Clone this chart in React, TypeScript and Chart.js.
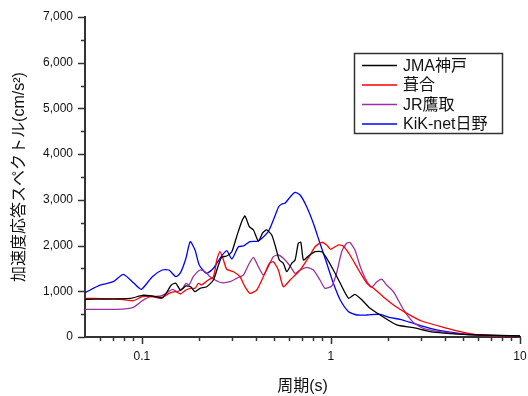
import React, { useEffect, useRef } from "react";
import { Chart, registerables } from "chart.js";

Chart.register(...registerables);

const seriesLabels = ["JMA神戸", "葺合", "JR鷹取", "KiK-net日野"];
const seriesColors = ["#000000", "#ff0000", "#9932a0", "#0000ff"];

const jmaPeriods = [0.05, 0.0872, 0.1005, 0.1135, 0.128, 0.136, 0.143, 0.151, 0.16, 0.171, 0.181, 0.191, 0.203, 0.22, 0.239, 0.254, 0.264, 0.281, 0.299, 0.317, 0.337, 0.351, 0.37, 0.389, 0.413, 0.436, 0.457, 0.486, 0.506, 0.533, 0.56, 0.584, 0.62, 0.646, 0.672, 0.693, 0.715, 0.76, 0.824, 0.894, 0.95, 1.03, 1.12, 1.24, 1.34, 1.46, 1.61, 1.82, 2.23, 2.73, 3.35, 4.1, 6.15, 10];
const jmaValues = [824, 846, 912, 897, 860, 991, 1138, 1175, 1028, 1116, 1100, 991, 1065, 1100, 1247, 1575, 1743, 1772, 1866, 2194, 2522, 2647, 2413, 2341, 2100, 2282, 2341, 2231, 2012, 1684, 1612, 1428, 1612, 1684, 2050, 2070, 1684, 1772, 1866, 1866, 1722, 1466, 1175, 847, 934, 809, 628, 481, 263, 204, 116, 80, 44, 22];

const fukiaiPeriods = [0.05, 0.0741, 0.09, 0.1005, 0.1135, 0.126, 0.139, 0.151, 0.16, 0.171, 0.181, 0.191, 0.199, 0.207, 0.2245, 0.239, 0.249, 0.259, 0.27, 0.281, 0.305, 0.33, 0.351, 0.373, 0.405, 0.439, 0.472, 0.496, 0.527, 0.56, 0.608, 0.687, 0.776, 0.824, 0.894, 0.95, 0.997, 1.09, 1.16, 1.26, 1.4, 1.55, 1.68, 1.89, 2.18, 2.52, 3.02, 3.93, 5.02, 6.15, 10];
const fukiaiValues = [846, 831, 794, 882, 882, 846, 956, 991, 941, 1028, 1065, 1065, 1175, 1138, 1247, 1319, 1684, 1866, 1684, 1481, 1428, 1319, 1100, 956, 1028, 1319, 1612, 1647, 1466, 1100, 1247, 1466, 1794, 1975, 2072, 2012, 1918, 2012, 1990, 1794, 1466, 1175, 1065, 882, 678, 518, 350, 212, 103, 44, 22];

const takatoriPeriods = [0.05, 0.0741, 0.09, 0.1005, 0.111, 0.126, 0.136, 0.145, 0.154, 0.164, 0.171, 0.1775, 0.187, 0.203, 0.216, 0.229, 0.244, 0.264, 0.2925, 0.317, 0.344, 0.366, 0.389, 0.413, 0.439, 0.466, 0.496, 0.527, 0.56, 0.608, 0.646, 0.687, 0.744, 0.807, 0.875, 0.93, 1.01, 1.07, 1.14, 1.21, 1.26, 1.34, 1.43, 1.55, 1.64, 1.75, 1.86, 1.97, 2.14, 2.42, 2.73, 3.08, 3.78, 4.82, 6.67, 10];
const takatoriValues = [606, 606, 650, 794, 882, 897, 969, 1043, 991, 1065, 1175, 1138, 1319, 1466, 1428, 1319, 1247, 1188, 1210, 1284, 1356, 1575, 1743, 1538, 1356, 1538, 1757, 1794, 1722, 1553, 1393, 1466, 1524, 1466, 1247, 1065, 1116, 1393, 1866, 2050, 2065, 1903, 1538, 1210, 1087, 1210, 1262, 1138, 991, 600, 320, 190, 116, 66, 29, 22];

const hinoPeriods = [0.05, 0.0605, 0.0706, 0.0797, 0.0908, 0.0993, 0.1135, 0.128, 0.139, 0.151, 0.16, 0.171, 0.18, 0.191, 0.201, 0.22, 0.239, 0.259, 0.281, 0.299, 0.324, 0.344, 0.373, 0.413, 0.466, 0.506, 0.529, 0.549, 0.571, 0.61, 0.646, 0.687, 0.744, 0.807, 0.875, 0.95, 1.03, 1.12, 1.24, 1.37, 1.55, 1.82, 2.06, 2.32, 2.73, 3.35, 4.1, 5.02, 6.15, 7.54, 10];
const hinoValues = [970, 1138, 1210, 1371, 1174, 1043, 1319, 1466, 1466, 1319, 1407, 1722, 2085, 1903, 1575, 1393, 1503, 1722, 1888, 1706, 1975, 1990, 2085, 2100, 2303, 2650, 2850, 2909, 2925, 3069, 3165, 3106, 2850, 2487, 2050, 1612, 1175, 809, 553, 481, 481, 497, 423, 387, 300, 190, 116, 66, 44, 29, 22];

const xMajorTicks = [0.1, 1, 10];
const xTickLabels = ["0.1", "1", "10"];
const xMinorTicks = [0.06, 0.07, 0.08, 0.09, 0.2, 0.3, 0.4, 0.5, 0.6, 0.7, 0.8, 0.9, 2, 3, 4, 5, 6, 7, 8, 9];
const yMajorTicks = [0, 1000, 2000, 3000, 4000, 5000, 6000, 7000];
const yMinorTicks = [500, 1500, 2500, 3500, 4500, 5500, 6500];

const xTitle = "周期(s)";
const yTitle = "加速度応答スペクトル(cm/s²)";

const FONT = "'Liberation Sans', Arial, 'Noto Sans CJK JP', sans-serif";
const AXIS_COLOR = "#333333";

function zip(px: number[], vy: number[]) {
  const n = Math.min(px.length, vy.length);
  const out: { x: number; y: number }[] = [];
  for (let i = 0; i < n; i++) out.push({ x: px[i], y: vy[i] });
  return out;
}

const tickPlugin = {
  id: "customTicks",
  afterDraw(chart: any) {
    const ctx = chart.ctx;
    const xs = chart.scales.x;
    const ys = chart.scales.y;
    const { left, bottom } = chart.chartArea;
    ctx.save();
    ctx.strokeStyle = AXIS_COLOR;
    ctx.lineWidth = 1.5;
    ctx.beginPath();
    xMajorTicks.forEach((v) => {
      const p = Math.round(xs.getPixelForValue(v)) + 0.5;
      ctx.moveTo(p, bottom);
      ctx.lineTo(p, bottom + 7);
    });
    xMinorTicks.forEach((v) => {
      const p = Math.round(xs.getPixelForValue(v)) + 0.5;
      ctx.moveTo(p, bottom);
      ctx.lineTo(p, bottom + 4);
    });
    yMajorTicks.forEach((v) => {
      const p = Math.round(ys.getPixelForValue(v)) + 0.5;
      ctx.moveTo(left, p);
      ctx.lineTo(left - 7, p);
    });
    yMinorTicks.forEach((v) => {
      const p = Math.round(ys.getPixelForValue(v)) + 0.5;
      ctx.moveTo(left, p);
      ctx.lineTo(left - 4, p);
    });
    ctx.stroke();
    ctx.restore();
  },
};

const legendPlugin = {
  id: "boxLegend",
  afterDraw(chart: any) {
    const ctx = chart.ctx;
    const area = chart.chartArea;
    const boxLeft = area.left + 269;
    const boxTop = area.top + 36;
    const boxW = 148;
    const boxH = 80;
    ctx.save();
    ctx.fillStyle = "#ffffff";
    ctx.fillRect(boxLeft, boxTop, boxW, boxH);
    ctx.strokeStyle = AXIS_COLOR;
    ctx.lineWidth = 1.5;
    ctx.strokeRect(boxLeft + 0.5, boxTop + 0.5, boxW, boxH);
    ctx.font = "16px " + FONT;
    ctx.textBaseline = "middle";
    ctx.textAlign = "left";
    chart.data.datasets.forEach((ds: any, i: number) => {
      const y = boxTop + 12.5 + i * 19.5;
      ctx.strokeStyle = ds.borderColor;
      ctx.lineWidth = 1.3;
      ctx.beginPath();
      ctx.moveTo(boxLeft + 8, y);
      ctx.lineTo(boxLeft + 43, y);
      ctx.stroke();
      ctx.fillStyle = "#111111";
      ctx.fillText(ds.label, boxLeft + 49, y + 1);
    });
    ctx.restore();
  },
};

export default function App() {
  const ref = useRef<HTMLCanvasElement | null>(null);
  useEffect(() => {
    if (!ref.current) return;
    const seriesData = [
      zip(jmaPeriods, jmaValues),
      zip(fukiaiPeriods, fukiaiValues),
      zip(takatoriPeriods, takatoriValues),
      zip(hinoPeriods, hinoValues),
    ];
    const chart = new Chart(ref.current, {
      type: "line",
      data: {
        datasets: seriesLabels.map((label, i) => ({
          label,
          data: seriesData[i],
          borderColor: seriesColors[i],
          backgroundColor: seriesColors[i],
          borderWidth: 1.3,
          pointRadius: 0,
          tension: 0.2,
          fill: false,
        })),
      },
      options: {
        animation: false,
        responsive: false,
        events: [],
        layout: { padding: { left: 0, top: 17, right: 8, bottom: 0 } },
        plugins: {
          legend: { display: false },
          tooltip: { enabled: false },
          title: { display: false },
        },
        scales: {
          x: {
            type: "logarithmic",
            min: 0.05,
            max: 10,
            afterBuildTicks: (scale: any) => {
              scale.ticks = xMajorTicks.map((v) => ({ value: v }));
            },
            afterFit: (scale: any) => {
              scale.height = 59;
              scale.paddingLeft = 0;
              scale.paddingRight = 0;
            },
            ticks: {
              autoSkip: false,
              maxRotation: 0,
              padding: 12,
              color: "#111111",
              font: { family: FONT, size: 12 },
              callback: (value: any) => {
                const idx = xMajorTicks.indexOf(Number(value));
                return idx >= 0 ? xTickLabels[idx] : "";
              },
            },
            grid: { display: false, drawTicks: false },
            border: { display: true, color: AXIS_COLOR, width: 2 },
            title: {
              display: true,
              text: xTitle,
              color: "#111111",
              font: { family: FONT, size: 16 },
              padding: { top: 2, bottom: 0 },
            },
          },
          y: {
            type: "linear",
            min: 0,
            max: 7000,
            afterBuildTicks: (scale: any) => {
              scale.ticks = yMajorTicks.map((v) => ({ value: v }));
            },
            afterFit: (scale: any) => {
              scale.width = 85;
              scale.paddingTop = 0;
              scale.paddingBottom = 0;
            },
            ticks: {
              padding: 12,
              color: "#111111",
              font: { family: FONT, size: 12 },
              callback: (value: any) => Number(value).toLocaleString("en-US"),
            },
            grid: { display: false, drawTicks: false },
            border: { display: true, color: AXIS_COLOR, width: 2 },
            title: {
              display: true,
              text: yTitle,
              color: "#111111",
              font: { family: FONT, size: 16 },
              padding: { top: 10, bottom: 0 },
            },
          },
        },
      },
      plugins: [tickPlugin, legendPlugin],
    } as any);
    return () => chart.destroy();
  }, []);
  return (
    <div style={{ position: "fixed", left: 0, top: 0, width: 528, height: 396, background: "#fff" }}>
      <canvas ref={ref} width={528} height={396} style={{ display: "block" }} />
    </div>
  );
}
